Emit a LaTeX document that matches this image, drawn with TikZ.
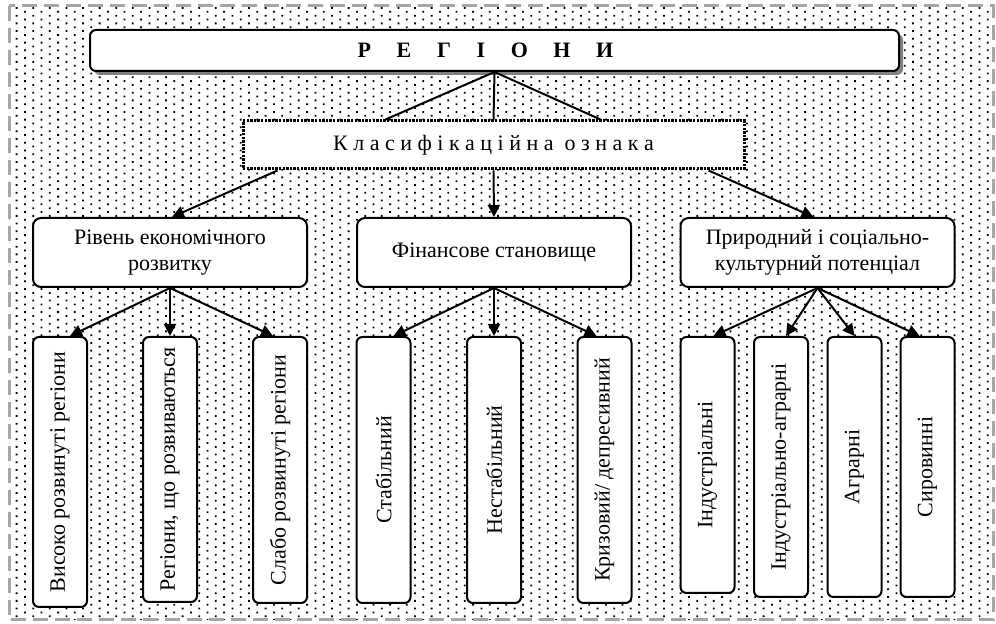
\documentclass[tikz,border=0pt]{standalone}
\usepackage{fontspec}
\setmainfont{Liberation Serif}
\usetikzlibrary{positioning, arrows.meta, shadows, patterns}

\pgfdeclarepatternformonly{regdots}{\pgfpoint{-1pt}{-1pt}}{\pgfpoint{8.3pt}{3.85pt}}{\pgfpoint{8.3pt}{3.85pt}}{%
  \pgfpathrectangle{\pgfpoint{-0.45pt}{-0.45pt}}{\pgfpoint{0.9pt}{0.9pt}}%
  \pgfpathrectangle{\pgfpoint{3.7pt}{1.48pt}}{\pgfpoint{0.9pt}{0.9pt}}%
  \pgfusepath{fill}}

\begin{document}
\begin{tikzpicture}[x=0.5pt, y=-0.5pt, font=\fontsize{11}{13}\selectfont,
  every node/.style={fill=white, align=center, inner sep=2pt},
  box/.style={draw, line width=1pt, rounded corners=4pt, minimum width=137pt, minimum height=34.5pt},
  leaf/.style={draw, line width=1pt, rounded corners=3pt, minimum width=27pt, minimum height=#1},
  leaf/.default=133pt,
  link/.style={line width=1pt},
  arr/.style={line width=1pt, -{Triangle[length=6pt,width=6pt]}}]
  \useasboundingbox (0,0) rectangle (996,624);
  % background and frame
  \fill[pattern=regdots] (9,6) rectangle (993,620);
  \draw[gray!70, line width=1.5pt, dash pattern=on 7.5pt off 3.5pt] (9,6) rectangle (993,620);

  \node[draw, line width=1pt, rounded corners=3pt, minimum width=404.5pt, minimum height=20.5pt,
    drop shadow={shadow xshift=2pt, shadow yshift=-2pt, fill=gray, fill opacity=1}]
    (reg) at (494.5,50.5) {\bfseries Р\hspace{12.8pt}Е\hspace{12.8pt}Г\hspace{12.8pt}І\hspace{12.8pt}О\hspace{12.8pt}Н\hspace{12.8pt}И\hspace*{9pt}};
  \node[draw, dash pattern=on 1.2pt off 0.6pt, line width=1.5pt, minimum width=250.5pt, minimum height=24pt]
    (kl) at (493.5,145) {К л а с и ф і к а ц і й н а\ \ о з н а к а};

  \node[box] (rl) at (170,252.5) {Рівень економічного\\розвитку};
  \node[box] (fin) at (494,252.5) {Фінансове становище};
  \node[box] (pp) at (817.5,252.5) {Природний і соціально-\\культурний потенціал};

  % economic level
  \node[leaf=135pt] (v1) at (60,472) {\rotatebox{90}{Високо розвинуті регіони}};
  \node[leaf=132.5pt] (v2) at (170,469.5) {\rotatebox{90}{Регіони, що розвиваються}};
  \node[leaf] (v3) at (280,470) {\rotatebox{90}{Слабо розвинуті регіони}};
  % financial state
  \node[leaf] (f1) at (383.5,470) {\rotatebox{90}{Стабільний}};
  \node[leaf] (f2) at (494,470) {\rotatebox{90}{Нестабільний}};
  \node[leaf] (f3) at (604.5,470) {\rotatebox{90}{Кризовий/ депресивний}};
  % potential
  \node[leaf=128pt] (p1) at (707.5,465) {\rotatebox{90}{Індустріальні}};
  \node[leaf=130pt] (p2) at (781,467) {\rotatebox{90}{Індустріально-аграрні}};
  \node[leaf=130pt] (p3) at (854.5,467) {\rotatebox{90}{Аграрні}};
  \node[leaf=130pt] (p4) at (927.5,467) {\rotatebox{90}{Сировинні}};

  \draw[link] (reg.south) -- ([xshift=-54pt]kl.north);
  \draw[link] (reg.south) -- (kl.north);
  \draw[link] (reg.south) -- ([xshift=53.5pt]kl.north);

  \draw[arr] ([xshift=-108pt]kl.south) -- ([xshift=1pt]rl.north);
  \draw[arr] (kl.south) -- (fin.north);
  \draw[arr] ([xshift=107.5pt]kl.south) -- ([xshift=-2pt]pp.north);

  \draw[arr] (rl.south) -- ([xshift=5pt]v1.north);
  \draw[arr] (rl.south) -- (v2.north);
  \draw[arr] (rl.south) -- ([xshift=-3.5pt]v3.north);

  \draw[arr] (fin.south) -- ([xshift=5pt]f1.north);
  \draw[arr] (fin.south) -- (f2.north);
  \draw[arr] (fin.south) -- ([xshift=-4pt]f3.north);

  \draw[arr] (pp.south) -- ([xshift=3pt]p1.north);
  \draw[arr] (pp.south) -- ([xshift=2.5pt]p2.north);
  \draw[arr] (pp.south) -- (p3.north);
  \draw[arr] (pp.south) -- ([xshift=-4pt]p4.north);
\end{tikzpicture}
\end{document}
